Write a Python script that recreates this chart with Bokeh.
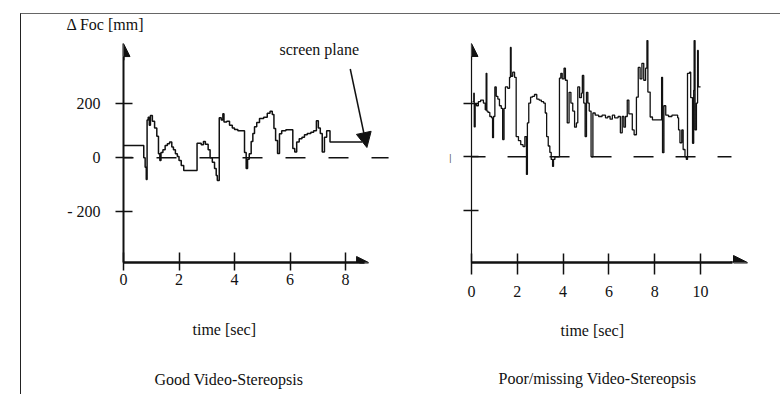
from bokeh.plotting import figure
from bokeh.layouts import gridplot
from bokeh.models import Range1d, FixedTicker, Label, Arrow, NormalHead, Title
from bokeh.embed import file_html
from bokeh.resources import INLINE

# ---------------- data ----------------
TIME_GOOD = [0.00, 0.73, 0.78, 0.82, 0.85, 0.89, 0.93, 0.97, 1.04, 1.12, 1.20, 1.26, 1.31, 1.35,
             1.42, 1.50, 1.58, 1.66, 1.74, 1.80, 1.87, 1.94, 2.00, 2.08, 2.17, 2.65, 2.80, 2.88,
             2.95, 3.05, 3.12, 3.20, 3.28, 3.34, 3.38, 3.45, 3.52, 3.58, 3.62, 3.72, 3.82, 3.92,
             4.00, 4.12, 4.30, 4.36, 4.42, 4.47, 4.53, 4.60, 4.66, 4.72, 4.80, 4.90, 5.05, 5.18,
             5.28, 5.36, 5.42, 5.48, 5.55, 5.62, 5.70, 5.85, 6.10, 6.17, 6.24, 6.33, 6.43, 6.52,
             6.62, 6.75, 6.85, 6.95, 7.02, 7.09, 7.16, 7.24, 7.32, 7.44, 8.60]
FOC_GOOD = [45, 0, -35, -80, 140, 150, 120, 156, 135, 110, 80, 15, -10, 20,
            30, 45, 52, 58, 40, 30, 15, 5, -10, -28, -47, 54, 48, 60,
            50, 30, 0, -16, -40, -65, -84, 148, 140, 163, 132, 135, 120, 110,
            105, 100, 100, 20, -40, -5, 15, 60, 90, 115, 130, 145, 150, 165,
            172, 160, 108, 64, 16, 89, 100, 104, 34, 21, 58, 70, 76, 85,
            90, 94, 100, 137, 110, 90, 21, 76, 100, 58, 58]

TIME_POOR = [0.05, 0.10, 0.12, 0.16, 0.22, 0.30, 0.40, 0.52, 0.60, 0.64, 0.67, 0.72, 0.80, 0.88,
             0.92, 0.96, 1.02, 1.08, 1.15, 1.22, 1.30, 1.36, 1.42, 1.48, 1.58, 1.66, 1.70, 1.73,
             1.80, 1.88, 1.95, 2.05, 2.15, 2.25, 2.33, 2.40, 2.44, 2.50, 2.58, 2.66, 2.75, 2.85,
             2.95, 3.05, 3.15, 3.22, 3.28, 3.35, 3.42, 3.48, 3.54, 3.58, 3.64, 3.84, 3.90, 3.96,
             4.04, 4.10, 4.18, 4.26, 4.34, 4.42, 4.50, 4.58, 4.64, 4.72, 4.80, 4.84, 4.90, 4.96,
             5.02, 5.08, 5.14, 5.22, 5.30, 5.40, 5.55, 5.70, 5.85, 5.95, 6.05, 6.15, 6.25, 6.40,
             6.50, 6.58, 6.65, 6.72, 6.80, 6.87, 6.95, 7.02, 7.10, 7.20, 7.28, 7.36, 7.44, 7.52,
             7.60, 7.66, 7.70, 7.80, 7.90, 8.25, 8.30, 8.34, 8.40, 8.48, 8.60, 8.75, 9.00, 9.04,
             9.10, 9.18, 9.24, 9.32, 9.38, 9.43, 9.52, 9.57, 9.65, 9.70, 9.72, 9.76, 9.82, 9.87,
             9.90, 10.00]
FOC_POOR = [205, 237, 111, 195, 190, 205, 211, 200, 175, 311, 170, 165, 150, 145,
            71, 150, 260, 225, 215, 190, 180, 64, 180, 260, 255, 296, 407, 300,
            315, 296, 75, 60, 45, 38, 75, -66, 126, 200, 222, 225, 232, 215,
            211, 205, 200, 163, 75, 40, 16, -10, -36, -10, 0, 293, 311, 290,
            330, 285, 126, 240, 200, 170, 110, 126, 260, 220, 237, 303, 200, 75,
            240, 200, 170, 0, 163, 155, 150, 155, 145, 150, 140, 155, 145, 150,
            89, 150, 110, 150, 211, 160, 160, 100, 82, 222, 333, 290, 348, 285,
            330, 433, 241, 148, 137, 137, 296, 15, 190, 155, 150, 155, 145, 100,
            52, 100, 27, 0, -10, 311, 315, 220, 50, 248, 433, 100, 200, 396,
            260, 260]

X_TICKS_GOOD = [0, 2, 4, 6, 8]
X_TICKS_POOR = [0, 2, 4, 6, 8, 10]
Y_TICKS = [-200, 0, 200]
Y_TICK_LABELS_GOOD = {200: "200", 0: "0", -200: "- 200"}
Y_TICK_LABELS_POOR = {200: "", 0: "|", -200: ""}

Y_LABEL = "\u0394 Foc [mm]"
X_LABEL = "time [sec]"
CAPTION_GOOD = "Good Video-Stereopsis"
CAPTION_POOR = "Poor/missing Video-Stereopsis"
NOTE = "screen plane"

INK = "#111111"
FONT = "Liberation Serif"
FS = "16px"
Y_TOP = 451.8
FIG_H = 380


def base(width, x_end, y_start, mb_left, mb_bottom):
    p = figure(width=width, height=FIG_H, x_range=Range1d(0, x_end),
               y_range=Range1d(y_start, Y_TOP), output_backend="svg",
               toolbar_location=None, title=None,
               min_border_left=mb_left, min_border_right=0,
               min_border_top=21, min_border_bottom=mb_bottom)
    p.grid.visible = False
    p.outline_line_color = None
    p.background_fill_color = "white"
    p.border_fill_color = "white"
    for ax in (p.xaxis[0], p.yaxis[0]):
        ax.axis_line_color = INK
        ax.major_tick_line_color = INK
        ax.major_tick_line_width = 1.5
        ax.minor_tick_line_color = None
        ax.major_label_text_font = FONT
        ax.major_label_text_font_size = FS
        ax.major_label_text_color = INK
    return p


def title(p, s, side, offset, standoff, valign):
    p.add_layout(Title(text=s, align="left", offset=offset, standoff=standoff,
                       vertical_align=valign, text_font=FONT, text_font_size=FS,
                       text_font_style="normal", text_color=INK), side)


# ---------------- left panel ----------------
pl = base(379, 9.98, -386.8, 102, 132)
xa = pl.xaxis[0]
xa.ticker = FixedTicker(ticks=X_TICKS_GOOD)
xa.bounds = (0, 8.7)
xa.axis_line_width = 2.5
xa.major_tick_in = 10
xa.major_tick_out = 8
xa.major_label_standoff = 3
ya = pl.yaxis[0]
ya.ticker = FixedTicker(ticks=Y_TICKS)
ya.major_label_overrides = Y_TICK_LABELS_GOOD
ya.bounds = (-386.8, 375)
ya.axis_line_width = 2
ya.major_tick_in = 9
ya.major_tick_out = 8
ya.major_label_standoff = 15

pl.line(x=[-0.36, 9.55], y=[0, 0], line_color=INK, line_width=1.5, line_dash="20 23")
pl.step(x=TIME_GOOD, y=FOC_GOOD, mode="after", line_color=INK, line_width=1.5)

pl.add_layout(Arrow(x_start=0, y_start=360, x_end=0, y_end=422, line_color=INK, line_width=2,
                    end=NormalHead(size=13, fill_color=INK, line_color=INK)))
pl.add_layout(Arrow(x_start=8.5, y_start=-386.8, x_end=8.83, y_end=-386.8, line_color=INK,
                    line_width=2, end=NormalHead(size=12, fill_color=INK, line_color=INK)))
pl.add_layout(Arrow(x_start=8.17, y_start=328, x_end=8.77, y_end=38, line_color=INK,
                    line_width=1.5, end=NormalHead(size=15, fill_color=INK, line_color=INK)))
pl.add_layout(Label(x=5.62, y=430, text=NOTE, text_font=FONT, text_font_size=FS,
                    text_color=INK, text_baseline="top"))

title(pl, Y_LABEL, "above", -57, 1, "top")
title(pl, X_LABEL, "below", 69, 62, "bottom")
title(pl, CAPTION_GOOD, "below", 31, 0, "bottom")

# ---------------- right panel ----------------
pr = base(380, 13.49, -394.2, 71, 130)
xa = pr.xaxis[0]
xa.ticker = FixedTicker(ticks=X_TICKS_POOR)
xa.bounds = (0, 11.4)
xa.axis_line_width = 2.5
xa.major_tick_in = 9
xa.major_tick_out = 12
xa.major_label_standoff = 11
ya = pr.yaxis[0]
ya.ticker = FixedTicker(ticks=Y_TICKS)
ya.major_label_overrides = Y_TICK_LABELS_POOR
ya.major_label_text_font_size = "11px"
ya.bounds = (-394.2, 375)
ya.axis_line_width = 1.2
ya.major_tick_in = 7
ya.major_tick_out = 8
ya.major_label_standoff = 12

pr.line(x=[-0.26, 11.35], y=[0, 0], line_color=INK, line_width=1.5, line_dash="20 22")
pr.step(x=TIME_POOR, y=FOC_POOR, mode="after", line_color=INK, line_width=1.3)

pr.add_layout(Arrow(x_start=0, y_start=360, x_end=0, y_end=422, line_color=INK, line_width=1.2,
                    end=NormalHead(size=13, fill_color=INK, line_color=INK)))
pr.add_layout(Arrow(x_start=11.3, y_start=-394.2, x_end=12.05, y_end=-394.2, line_color=INK,
                    line_width=2, end=NormalHead(size=14, fill_color=INK, line_color=INK)))

title(pr, X_LABEL, "below", 89, 44, "top")
title(pr, CAPTION_POOR, "below", 27, 10, "bottom")

layout = gridplot([[pl, pr]], toolbar_location=None)
layout.margin = (14, 0, 0, 21)
layout.styles = {"box-shadow": "-1px 0 0 0 #222, 0 -1px 0 0 #666, -1px -1px 0 0 #444"}

open("out.html", "w").write(file_html(layout, INLINE))
